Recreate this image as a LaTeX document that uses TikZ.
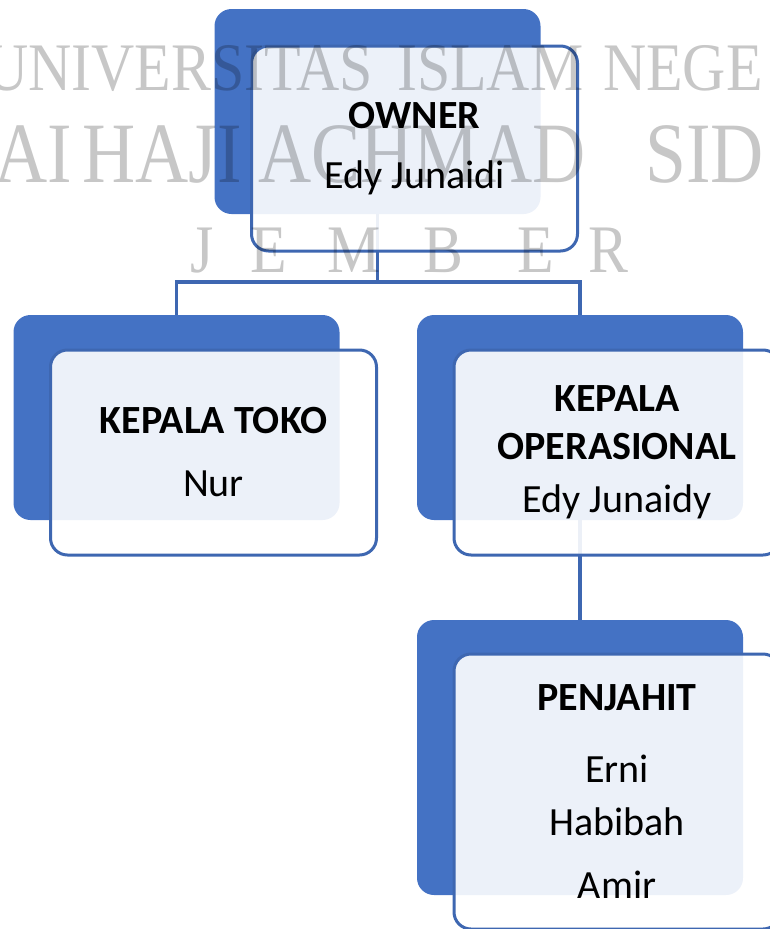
\documentclass[tikz,border=0pt]{standalone}
\usepackage{fontspec}
\setmainfont{Carlito}
\newfontfamily\wmfont{Liberation Serif}
\definecolor{boxblue}{HTML}{4472C4}
\definecolor{lineblue}{HTML}{3E67B1}
\pgfdeclarelayer{bg}
\pgfsetlayers{bg,main}
\begin{document}
\begin{tikzpicture}[x=1pt,y=-1pt,
  back/.style={rectangle, rounded corners=17pt, fill=boxblue, minimum width=326pt, minimum height=205pt, inner sep=0pt},
  front/.style={rectangle, rounded corners=17pt, draw=lineblue, line width=3pt, fill=white, fill opacity=0.9, text opacity=1, minimum width=326pt, minimum height=205pt, inner sep=0pt, align=center, font=\fontsize{40}{48}\selectfont},
  link/.style={draw=lineblue, line width=3.2pt},
  wmbase/.style={inner sep=0pt, anchor=base west, text=black, opacity=0.22},
  wm/.style={wmbase, font=\wmfont\fontsize{68}{68}\selectfont, xscale=0.88},
  wmbig/.style={wmbase, font=\wmfont\fontsize{86}{86}\selectfont, xscale=0.856}]
\useasboundingbox (0,0) rectangle (770,929);
\clip (0,0) rectangle (770,929);

% back (blue) boxes
\node[back] (ownerB) at (377.5,111.5) {};
\node[back] (tokoB) at (176.5,417.5) {};
\node[back] (opsB) at (580,417.5) {};
\node[back, minimum height=275pt] (jahitB) at (580,757.5) {};

% front boxes with text
\node[front] (ownerF) at (414.5,148.5) {\textbf{OWNER}\\[12pt]Edy Junaidi};
\node[front] (tokoF) at (213.5,452.5) {\textbf{KEPALA TOKO}\\[15pt]Nur};
\node[front] (opsF) at (617,452.5) {\textbf{KEPALA}\\\textbf{OPERASIONAL}\\[5pt]Edy Junaidy};
\node[front, minimum height=275pt] (jahitF) at (617,791.5) {\textbf{PENJAHIT}\\[24pt]Erni\\[5pt]Habibah\\[15pt]Amir};

% connectors
\coordinate (j1) at (377.5,282);
\begin{pgfonlayer}{bg}
\draw[link] (ownerB.south) -- (j1) -| (tokoB.north);
\draw[link] (j1) -| (opsB.north);
\draw[link] (opsB.south) -- (jahitB.north);
\end{pgfonlayer}

% watermark
\node[wm] (w1a) at (-15,90) {UNIVERSITAS};
\node[wm] (w1b) at (397,90) {ISLAM};
\node[wm] (w1c) at (603,90) {NEGE};
\node[wmbig] (w2a) at (-6,182) {AI};
\node[wmbig] (w2b) at (82,182) {HAJI};
\node[wmbig] (w2c) at (258,182) {ACHMAD};
\node[wmbig] (w2d) at (645,182) {SID};
\node[wm] (w3a) at (190,272) {J};
\node[wm] (w3b) at (250,272) {E};
\node[wm] (w3c) at (327,272) {M};
\node[wm] (w3d) at (423,272) {B};
\node[wm] (w3e) at (517,272) {E};
\node[wm] (w3f) at (588,272) {R};
\end{tikzpicture}
\end{document}
